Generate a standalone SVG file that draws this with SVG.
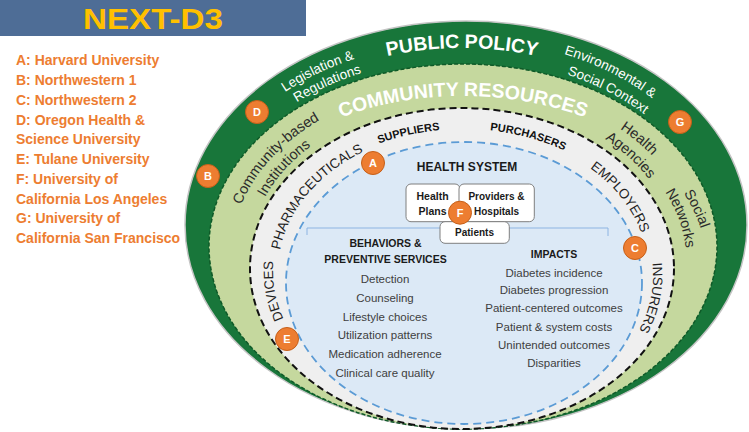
<svg xmlns="http://www.w3.org/2000/svg" width="749" height="432" viewBox="0 0 749 432">
<style>
.leg{font-family:"Liberation Sans",Arial,sans-serif;font-weight:bold;font-size:14px;fill:#ed7d31}
.wt{font-family:"Liberation Sans",Arial,sans-serif;font-size:13.5px;fill:#ffffff}
.wtb{font-family:"Liberation Sans",Arial,sans-serif;font-weight:bold;fill:#ffffff}
.dk{font-family:"Liberation Sans",Arial,sans-serif;font-size:14.5px;fill:#2b2b2b}
.mk{font-family:"Liberation Sans",Arial,sans-serif;font-size:13.5px;fill:#1e1e1e}
.mkb{font-family:"Liberation Sans",Arial,sans-serif;font-weight:bold;font-size:11px;fill:#111111}
.hd{font-family:"Liberation Sans",Arial,sans-serif;font-weight:bold;fill:#1a1a1a;text-anchor:middle}
.li{font-family:"Liberation Sans",Arial,sans-serif;font-size:11.5px;fill:#404040;text-anchor:middle}
.box{fill:#ffffff;stroke:#7f7f7f;stroke-width:1}
.badge circle{fill:#ed7d31;stroke:#c65f18;stroke-width:1}
.badge text{font-family:"Liberation Sans",Arial,sans-serif;font-weight:bold;font-size:11px;fill:#ffffff;text-anchor:middle}
</style>
<defs>
<path id="p-policy" d="M207,230 A255 182 0 0 1 462,48 A255 182 0 0 1 717,230"/>
<path id="p-legis" d="M285,92 A262 190 0 0 1 593,67.5"/>
<path id="p-regul" d="M297,102.3 A250 178 0 0 1 547.5,68.7"/>
<path id="p-enviro" d="M564,54 A262 190 0 0 1 720,196"/>
<path id="p-socctx" d="M567,74.5 A250 178 0 0 1 711,220.5"/>
<path id="p-community" d="M218,258 A245 162 0 0 1 463,96 A245 162 0 0 1 708,258"/>
<path id="p-cbased" d="M241.1,204.9 A232 171.5 0 0 1 463,83.5"/>
<path id="p-instit" d="M265,197.1 A214.4 158.7 0 0 1 463,99.3"/>
<path id="p-health" d="M620,128.7 A232 171.5 0 0 1 681,313.7"/>
<path id="p-agencies" d="M605,139.1 A214.4 158.7 0 0 1 664.5,312.3"/>
<path id="p-social" d="M683.8,193 A244.3 180.5 0 0 1 585.2,426.6"/>
<path id="p-networks" d="M665.1,192 A223.7 165.3 0 0 1 574.9,406"/>
<path id="p-suppliers" d="M379,143.5 A196 150 0 0 1 632.7,204"/>
<path id="p-purchasers" d="M490,130.4 A196 150 0 0 1 656,305"/>
<path id="p-pharma" d="M280,250 A185 141.6 0 0 1 463,129.4"/>
<path id="p-employers" d="M590,168 A185 141.6 0 0 1 555.5,393.6"/>
<path id="p-insurers" d="M652.4,263 A190 146 0 0 1 528,412.2"/>
<path id="p-devices" d="M283.6,318.9 A190 145 0 0 1 463,126"/>
</defs>

<g id="title">
<rect x="0" y="0" width="306" height="36" fill="#4e6d96"/>
<text x="83" y="28.5" font-family="Liberation Sans,Arial,sans-serif" font-weight="bold" font-size="30" fill="#ffc000" textLength="140" lengthAdjust="spacingAndGlyphs">NEXT-D3</text>
</g>

<g id="legend">
<text class="leg" x="16" y="65">A: Harvard University</text>
<text class="leg" x="16" y="85">B: Northwestern 1</text>
<text class="leg" x="16" y="104.5">C: Northwestern 2</text>
<text class="leg" x="16" y="124.5">D: Oregon Health &amp;</text>
<text class="leg" x="16" y="144">Science University</text>
<text class="leg" x="16" y="164">E: Tulane University</text>
<text class="leg" x="16" y="183.5">F: University of</text>
<text class="leg" x="16" y="203.5">California Los Angeles</text>
<text class="leg" x="16" y="223">G: University of</text>
<text class="leg" x="16" y="243">California San Francisco</text>
</g>

<g id="ring-public-policy">
<ellipse cx="466" cy="225" rx="281" ry="204" fill="#18763a" stroke="#c4c4c4" stroke-width="1.5"/>
<text class="wtb" font-size="19.5" text-anchor="middle"><textPath href="#p-policy" startOffset="50%">PUBLIC POLICY</textPath></text>
<text class="wt"><textPath href="#p-legis">Legislation &amp;</textPath></text>
<text class="wt"><textPath href="#p-regul">Regulations</textPath></text>
<text class="wt"><textPath href="#p-enviro">Environmental &amp;</textPath></text>
<text class="wt"><textPath href="#p-socctx">Social Context</textPath></text>
</g>

<g id="ring-community-resources">
<ellipse cx="463" cy="246.5" rx="254" ry="182.5" fill="#c5d89e" stroke="#0f5a28" stroke-width="1.5" stroke-dasharray="4 2"/>
<text class="wtb" font-size="19.5" text-anchor="middle"><textPath href="#p-community" startOffset="50%">COMMUNITY RESOURCES</textPath></text>
<text class="dk"><textPath href="#p-cbased">Community-based</textPath></text>
<text class="dk"><textPath href="#p-instit">Institutions</textPath></text>
<text class="dk"><textPath href="#p-health">Health</textPath></text>
<text class="dk"><textPath href="#p-agencies">Agencies</textPath></text>
<text class="dk"><textPath href="#p-social">Social</textPath></text>
<text class="dk"><textPath href="#p-networks">Networks</textPath></text>
</g>

<g id="ring-market">
<ellipse cx="462" cy="268.5" rx="212" ry="160.5" fill="#efefef" stroke="#111111" stroke-width="2" stroke-dasharray="7 4"/>
<text class="mkb"><textPath href="#p-suppliers">SUPPLIERS</textPath></text>
<text class="mkb"><textPath href="#p-purchasers">PURCHASERS</textPath></text>
<text class="mk"><textPath href="#p-pharma">PHARMACEUTICALS</textPath></text>
<text class="mk"><textPath href="#p-employers">EMPLOYERS</textPath></text>
<text class="mk" font-size="13"><textPath href="#p-devices">DEVICES</textPath></text>
<text class="mk" font-size="11"><textPath href="#p-insurers">INSURERS</textPath></text>
</g>

<g id="health-system">
<ellipse cx="464" cy="283" rx="178" ry="141" fill="#dce9f6" stroke="#5b9bd5" stroke-width="1.8" stroke-dasharray="8 5"/>
<text class="hd" x="467" y="171" font-size="12">HEALTH SYSTEM</text>
<polyline points="307,235 307,228 608,228 608,236" fill="none" stroke="#8db4e2" stroke-width="1"/>
</g>

<g id="box-health-plans">
<rect class="box" x="406" y="184" width="54" height="37.7" rx="5"/>
<text class="hd" x="432.5" y="200" font-size="10.5">Health</text>
<text class="hd" x="432.5" y="214.5" font-size="10.5">Plans</text>
</g>

<g id="box-providers">
<rect class="box" x="459" y="184" width="75.3" height="37.7" rx="5"/>
<text class="hd" x="496.5" y="200" font-size="10">Providers &amp;</text>
<text class="hd" x="496.5" y="214.5" font-size="10">Hospitals</text>
</g>

<g id="box-patients">
<rect class="box" x="440" y="221.7" width="69.3" height="21.6" rx="5"/>
<text class="hd" x="474.5" y="236" font-size="10">Patients</text>
</g>

<g id="behaviors">
<text class="hd" x="385.5" y="247" font-size="10.5">BEHAVIORS &amp;</text>
<text class="hd" x="385.5" y="263" font-size="10.5">PREVENTIVE SERVICES</text>
<text class="li" x="385" y="283">Detection</text>
<text class="li" x="385" y="301.5">Counseling</text>
<text class="li" x="385" y="320.5">Lifestyle choices</text>
<text class="li" x="385" y="339">Utilization patterns</text>
<text class="li" x="385" y="358">Medication adherence</text>
<text class="li" x="385" y="377">Clinical care quality</text>
</g>

<g id="impacts">
<text class="hd" x="554" y="258" font-size="10.5">IMPACTS</text>
<text class="li" x="554" y="277">Diabetes incidence</text>
<text class="li" x="554" y="294">Diabetes progression</text>
<text class="li" x="554" y="312">Patient-centered outcomes</text>
<text class="li" x="554" y="331">Patient &amp; system costs</text>
<text class="li" x="554" y="349">Unintended outcomes</text>
<text class="li" x="554" y="367">Disparities</text>
</g>

<g id="connectors"></g>

<g id="badge-a" class="badge"><circle cx="373" cy="163" r="11.5"/><text x="373" y="167">A</text></g>
<g id="badge-b" class="badge"><circle cx="208" cy="176" r="11.5"/><text x="208" y="180">B</text></g>
<g id="badge-c" class="badge"><circle cx="635" cy="248" r="11.5"/><text x="635" y="252">C</text></g>
<g id="badge-d" class="badge"><circle cx="257" cy="112" r="11.5"/><text x="257" y="116">D</text></g>
<g id="badge-e" class="badge"><circle cx="287" cy="339" r="11.5"/><text x="287" y="343">E</text></g>
<g id="badge-f" class="badge"><circle cx="460" cy="212.7" r="11.5"/><text x="460" y="216.7">F</text></g>
<g id="badge-g" class="badge"><circle cx="680" cy="122" r="11.5"/><text x="680" y="126">G</text></g>
</svg>
